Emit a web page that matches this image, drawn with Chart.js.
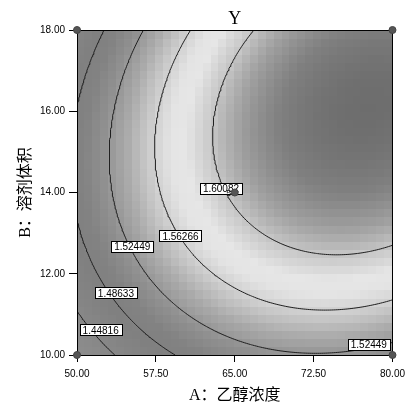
<!DOCTYPE html>
<html>
<head>
<meta charset="utf-8">
<script src="https://cdn.jsdelivr.net/npm/chart.js@4.4.1/dist/chart.umd.min.js"></script>
<style>
html,body{margin:0;padding:0;background:#fff;}
#wrap{width:411px;height:408px;}
</style>
</head>
<body>
<div id="wrap"><canvas id="c" width="411" height="408"></canvas></div>
<script>
// axis ticks
const aTicks=[50,57.5,65,72.5,80];
const bTicks=[10,12,14,16,18];
// contour levels shown on the plot
const levels=[1.44816,1.48633,1.52449,1.56266,1.60082];
// response surface, coded units: b0, A, B, AB, A^2, B^2 (estimated from the contours)
const coef=[1.6048,0.0675,0.040,0.0203,-0.0462,-0.054];
// contour labels
const labelVal=[1.60082,1.56266,1.52449,1.48633,1.44816,1.52449];
const labelA=[63.69,59.84,55.25,53.70,52.25,77.75];
const labelB=[14.11,12.93,12.68,11.53,10.62,10.27];
// design points
const designA=[50,50,80,80,65];
const designB=[10,18,10,18,14];
const centerRuns=5;

// grey ramp (picture is a greyscale copy of a colour map)
const shadeAt=[1.40,1.45,1.48,1.50,1.52,1.54,1.56,1.575,1.585,1.60,1.615,1.63,1.645];
const shadeGray=[145,135,128,130,145,170,205,228,230,200,160,128,108];

function yHat(A,B){
  const a=(A-65)/15,b=(B-14)/4;
  return coef[0]+coef[1]*a+coef[2]*b+coef[3]*a*b+coef[4]*a*a+coef[5]*b*b;
}

function grayFor(v){
  if(v<=shadeAt[0]) return shadeGray[0];
  for(let k=1;k<shadeAt.length;k++){
    if(v<=shadeAt[k]){
      const t=(v-shadeAt[k-1])/(shadeAt[k]-shadeAt[k-1]);
      return Math.round(shadeGray[k-1]+t*(shadeGray[k]-shadeGray[k-1]));
    }
  }
  return shadeGray[shadeGray.length-1];
}

// marching squares, segments chained into polylines
function contourData(level){
  const N=160,val=[];
  for(let j=0;j<=N;j++){
    const row=[];
    for(let i=0;i<=N;i++) row.push(yHat(50+30*i/N,10+8*j/N)-level);
    val.push(row);
  }
  const pos={},adj={};
  const link=(p,q)=>{(adj[p]=adj[p]||[]).push(q);(adj[q]=adj[q]||[]).push(p);};
  const cross=(id,va,vb,ia,ja,ib,jb,out)=>{
    if((va<0)!==(vb<0)){
      const t=va/(va-vb);
      pos[id]={x:50+30*(ia+(ib-ia)*t)/N,y:10+8*(ja+(jb-ja)*t)/N};
      out.push(id);
    }
  };
  for(let j=0;j<N;j++)for(let i=0;i<N;i++){
    const v0=val[j][i],v1=val[j][i+1],v2=val[j+1][i+1],v3=val[j+1][i];
    const c=[];
    cross("h"+i+"_"+j,v0,v1,i,j,i+1,j,c);
    cross("v"+(i+1)+"_"+j,v1,v2,i+1,j,i+1,j+1,c);
    cross("h"+i+"_"+(j+1),v2,v3,i+1,j+1,i,j+1,c);
    cross("v"+i+"_"+j,v3,v0,i,j+1,i,j,c);
    if(c.length===2) link(c[0],c[1]);
    else if(c.length===4){link(c[0],c[1]);link(c[2],c[3]);}
  }
  const used={},pts=[];
  const walk=start=>{
    let cur=start,prev=null;
    while(cur&&!used[cur]){
      used[cur]=true;pts.push(pos[cur]);
      const nx=(adj[cur]||[]).find(n=>n!==prev&&!used[n]);
      prev=cur;cur=nx;
    }
    pts.push({x:NaN,y:NaN});
  };
  Object.keys(adj).filter(k=>adj[k].length===1).forEach(k=>{if(!used[k]) walk(k);});
  Object.keys(adj).forEach(k=>{if(!used[k]) walk(k);});
  return pts;
}

const surfacePlugin={
  id:"surface",
  beforeDatasetsDraw(chart){
    const {ctx,scales:{x,y}}=chart;
    const NX=40,NY=40;
    ctx.save();
    for(let i=0;i<NX;i++)for(let j=0;j<NY;j++){
      const A0=50+30*i/NX,A1=50+30*(i+1)/NX,B0=10+8*j/NY,B1=10+8*(j+1)/NY;
      const g=grayFor(yHat((A0+A1)/2,(B0+B1)/2));
      ctx.fillStyle="rgb("+g+","+g+","+g+")";
      const x0=Math.floor(x.getPixelForValue(A0)),x1=Math.ceil(x.getPixelForValue(A1));
      const y0=Math.floor(y.getPixelForValue(B1)),y1=Math.ceil(y.getPixelForValue(B0));
      ctx.fillRect(x0,y0,x1-x0,y1-y0);
    }
    ctx.restore();
  },
  beforeDatasetDraw(chart,args){
    if(args.index!==0) return;
    const {ctx,chartArea:ca,scales:{x,y}}=chart;
    ctx.save();
    ctx.strokeStyle="#000";ctx.lineWidth=1;
    ctx.strokeRect(Math.round(ca.left)+0.5,Math.round(ca.top)+0.5,Math.round(ca.right-ca.left),Math.round(ca.bottom-ca.top));
    ctx.font='10px "Liberation Sans", Arial, sans-serif';
    ctx.textAlign="center";ctx.textBaseline="middle";
    labelVal.forEach((v,k)=>{
      const px=x.getPixelForValue(labelA[k]),py=y.getPixelForValue(labelB[k]);
      const t=v.toFixed(5);
      const w=Math.round(ctx.measureText(t).width+6),h=11;
      const bx=Math.round(px-w/2)+0.5,by=Math.round(py-h/2)+0.5;
      ctx.fillStyle="#fff";ctx.fillRect(bx,by,w,h);
      ctx.strokeStyle="#000";ctx.strokeRect(bx,by,w,h);
      ctx.fillStyle="#000";ctx.fillText(t,px,py+1);
    });
    ctx.font='9px "Liberation Sans", Arial, sans-serif';
    ctx.fillStyle="#222";
    ctx.fillText(String(centerRuns),x.getPixelForValue(65)-6,y.getPixelForValue(14)+1);
    ctx.restore();
  }
};

const datasets=[{
  label:"design",
  data:designA.map((a,k)=>({x:a,y:designB[k]})),
  pointRadius:3.5,
  pointBackgroundColor:"#555",
  pointBorderColor:"#444",
  pointBorderWidth:1,
  showLine:false,
  clip:false
}];
levels.forEach(L=>{
  datasets.push({
    label:String(L),
    data:contourData(L),
    showLine:true,
    borderColor:"#1e1e1e",
    borderWidth:1,
    pointRadius:0,
    tension:0,
    spanGaps:false
  });
});

const tickFont={family:'"Liberation Sans", Arial, sans-serif',size:10};
const titleFont={family:'"Liberation Serif", "Noto Sans CJK SC", serif',size:16};

new Chart(document.getElementById("c"),{
  type:"scatter",
  data:{datasets},
  options:{
    responsive:false,
    animation:false,
    devicePixelRatio:1,
    layout:{padding:{left:0,right:14,top:0,bottom:0}},
    plugins:{
      legend:{display:false},
      tooltip:{enabled:false},
      title:{display:true,text:"Y",color:"#000",fullSize:false,
        font:{family:'"Liberation Serif", serif',size:18,weight:"normal"},
        padding:{top:8,bottom:0.4}}
    },
    scales:{
      x:{type:"linear",position:"bottom",min:50,max:80,
        afterBuildTicks:s=>{s.ticks=aTicks.map(v=>({value:v}));},
        afterFit:s=>{s.height=53;},
        ticks:{font:tickFont,color:"#000",padding:6,maxRotation:0,callback:v=>Number(v).toFixed(2)},
        grid:{drawOnChartArea:false,drawTicks:true,tickLength:7,color:"#000"},
        border:{display:true,color:"#000"},
        title:{display:true,text:"A：乙醇浓度",color:"#000",font:titleFont,padding:{top:0,bottom:3}}
      },
      y:{type:"linear",position:"left",min:10,max:18,
        afterBuildTicks:s=>{s.ticks=bTicks.map(v=>({value:v}));},
        afterFit:s=>{s.width=77;},
        ticks:{font:tickFont,color:"#000",padding:4,callback:v=>Number(v).toFixed(2)},
        grid:{drawOnChartArea:false,drawTicks:true,tickLength:8,color:"#000"},
        border:{display:true,color:"#000"},
        title:{display:true,text:"B：溶剂体积",color:"#000",font:titleFont,padding:{top:16,bottom:0}}
      }
    }
  },
  plugins:[surfacePlugin]
});
</script>
</body>
</html>
